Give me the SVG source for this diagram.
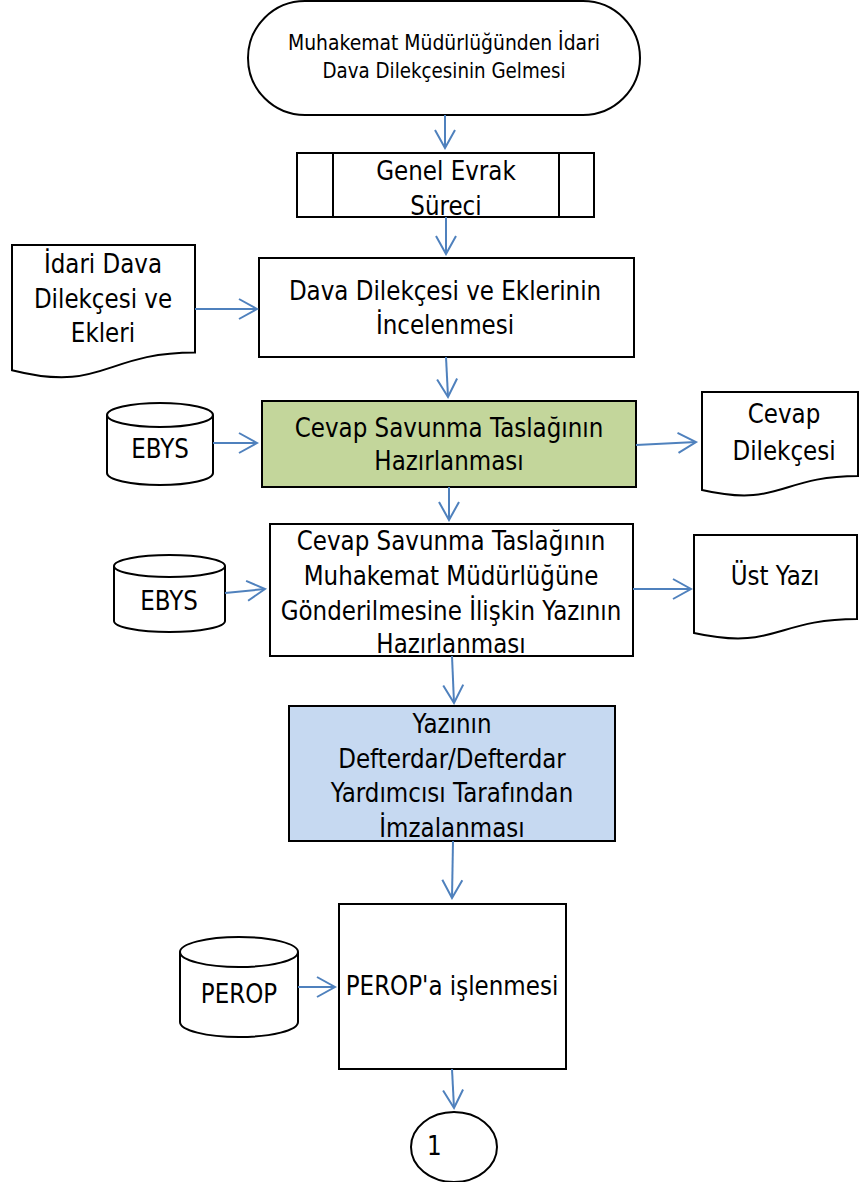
<svg xmlns="http://www.w3.org/2000/svg" width="860" height="1182" viewBox="0 0 860 1182">
<style>
.s{fill:#fff;stroke:#000;stroke-width:2}
.g{fill:#c3d69b;stroke:#000;stroke-width:2}
.b{fill:#c6d9f1;stroke:#000;stroke-width:2}
.ln{fill:none;stroke:#000;stroke-width:2}
text{font-family:"DejaVu Sans","Liberation Sans",sans-serif;font-size:26px;fill:#000;text-anchor:middle}
.t{font-size:20.5px}
.c line{stroke:#4f81bd;stroke-width:2;marker-end:url(#ah)}
</style>
<defs>
<marker id="ah" markerUnits="userSpaceOnUse" markerWidth="22" markerHeight="24" refX="20" refY="12" orient="auto" viewBox="0 0 22 24">
<path d="M2,2 L20,12 L2,22" fill="none" stroke="#4f81bd" stroke-width="2"/>
</marker>
</defs>
<g id="start">
<rect class="s" x="248" y="1" width="392" height="114" rx="57" ry="57"/>
<text class="t" x="444" y="50" textLength="312" lengthAdjust="spacingAndGlyphs">Muhakemat Müdürlüğünden İdari</text>
<text class="t" x="444" y="78" textLength="243" lengthAdjust="spacingAndGlyphs">Dava Dilekçesinin Gelmesi</text>
</g>
<g id="genel-evrak">
<rect class="s" x="297" y="153" width="297" height="64"/>
<line class="ln" x1="333" y1="153" x2="333" y2="217"/>
<line class="ln" x1="559" y1="153" x2="559" y2="217"/>
<g transform="translate(446,0) scale(0.885,1)">
<text x="0" y="180">Genel Evrak</text>
<text x="0" y="215">Süreci</text>
</g>
</g>
<g id="idari-dava-doc">
<path class="s" d="M12,245 H195 V352.5 C103.5,352.5 103.5,393.4 12,370.2 Z"/>
<g transform="translate(103,0) scale(0.885,1)">
<text x="0" y="273">İdari Dava</text>
<text x="0" y="308">Dilekçesi ve</text>
<text x="0" y="342">Ekleri</text>
</g>
</g>
<g id="inceleme">
<rect class="s" x="259" y="258" width="375" height="99"/>
<g transform="translate(445,0) scale(0.885,1)">
<text x="0" y="300">Dava Dilekçesi ve Eklerinin</text>
<text x="0" y="334">İncelenmesi</text>
</g>
</g>
<g id="ebys1">
<path class="s" d="M107,415 A53,12 0 0 1 213,415 V473 A53,12 0 0 1 107,473 Z"/>
<path class="ln" d="M107,415 A53,12 0 0 0 213,415"/>
<g transform="translate(160,0) scale(0.885,1)">
<text x="0" y="458">EBYS</text>
</g>
</g>
<g id="taslak">
<rect class="g" x="262" y="401" width="374" height="86"/>
<g transform="translate(449,0) scale(0.885,1)">
<text x="0" y="437">Cevap Savunma Taslağının</text>
<text x="0" y="470">Hazırlanması</text>
</g>
</g>
<g id="cevap-dilekcesi">
<path class="s" d="M702,392 H858 V476 C780,476 780,508 702,490 Z"/>
<g transform="translate(784,0) scale(0.885,1)">
<text x="0" y="423">Cevap</text>
<text x="0" y="460">Dilekçesi</text>
</g>
</g>
<g id="ebys2">
<path class="s" d="M114,566 A55.5,11 0 0 1 225,566 V621 A55.5,11 0 0 1 114,621 Z"/>
<path class="ln" d="M114,566 A55.5,11 0 0 0 225,566"/>
<g transform="translate(169,0) scale(0.885,1)">
<text x="0" y="610">EBYS</text>
</g>
</g>
<g id="yazi-hazirlama">
<rect class="s" x="270" y="524" width="363" height="132"/>
<g transform="translate(451,0) scale(0.885,1)">
<text x="0" y="550">Cevap Savunma Taslağının</text>
<text x="0" y="585">Muhakemat Müdürlüğüne</text>
<text x="0" y="620">Gönderilmesine İlişkin Yazının</text>
<text x="0" y="653">Hazırlanması</text>
</g>
</g>
<g id="ust-yazi">
<path class="s" d="M694,535 H857 V619 C775.5,619 775.5,651 694,633 Z"/>
<g transform="translate(775,0) scale(0.885,1)">
<text x="0" y="585">Üst Yazı</text>
</g>
</g>
<g id="imza">
<rect class="b" x="289" y="706" width="326" height="135"/>
<g transform="translate(452,0) scale(0.885,1)">
<text x="0" y="733">Yazının</text>
<text x="0" y="768">Defterdar/Defterdar</text>
<text x="0" y="802">Yardımcısı Tarafından</text>
<text x="0" y="837">İmzalanması</text>
</g>
</g>
<g id="perop-db">
<path class="s" d="M180,952 A59,15 0 0 1 298,952 V1022 A59,15 0 0 1 180,1022 Z"/>
<path class="ln" d="M180,952 A59,15 0 0 0 298,952"/>
<g transform="translate(239,0) scale(0.885,1)">
<text x="0" y="1003">PEROP</text>
</g>
</g>
<g id="perop-islem">
<rect class="s" x="339" y="904" width="227" height="165"/>
<g transform="translate(452,0) scale(0.885,1)">
<text x="0" y="995">PEROP'a işlenmesi</text>
</g>
</g>
<g id="connector-1">
<ellipse class="s" cx="454" cy="1147" rx="43" ry="35"/>
<g transform="translate(427,0) scale(0.885,1)">
<text x="0" y="1155" style="text-anchor:start">1</text>
</g>
</g>
<g id="connectors" class="c">
<line x1="445" y1="115" x2="445" y2="148"/>
<line x1="446" y1="217" x2="446" y2="254"/>
<line x1="195" y1="309" x2="257" y2="309"/>
<line x1="446" y1="357" x2="448" y2="397"/>
<line x1="213" y1="443" x2="257" y2="443"/>
<line x1="636" y1="445" x2="696" y2="442"/>
<line x1="449" y1="487" x2="449" y2="520"/>
<line x1="225" y1="593" x2="265" y2="589"/>
<line x1="633" y1="589" x2="691" y2="589"/>
<line x1="452" y1="656" x2="454" y2="703"/>
<line x1="453" y1="841" x2="452" y2="898"/>
<line x1="298" y1="987" x2="335" y2="987"/>
<line x1="452" y1="1069" x2="454" y2="1108"/>
</g>
</svg>
